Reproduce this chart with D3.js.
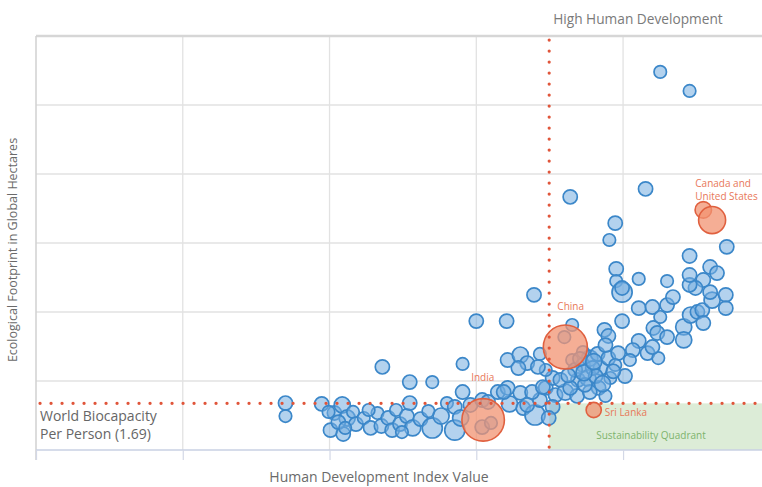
<!DOCTYPE html>
<html>
<head>
<meta charset="utf-8">
<script src="https://cdn.jsdelivr.net/npm/d3@7"></script>
<style>
  body { margin: 0; background: #fff; }
  svg { display: block; }
</style>
</head>
<body>
<div id="chart"></div>
<script>
// Human Development Index vs Ecological Footprint (global hectares / person)
const hdi = [
  0.455, 0.455, 0.492, 0.505, 0.513, 0.518, 0.501, 0.514, 0.509, 0.524,
  0.527, 0.535, 0.542, 0.549, 0.553, 0.560, 0.564, 0.568, 0.572, 0.579,
  0.582, 0.585, 0.593, 0.601, 0.605, 0.614, 0.620, 0.628, 0.628, 0.636,
  0.636, 0.554, 0.582, 0.605, 0.540, 0.574, 0.516, 0.499, 0.656, 0.665,
  0.650, 0.681, 0.709, 0.682, 0.695, 0.702, 0.715, 0.672, 0.682, 0.695,
  0.684, 0.698, 0.710, 0.715, 0.721, 0.728, 0.721, 0.731, 0.728, 0.741,
  0.740, 0.748, 0.748, 0.754, 0.759, 0.766, 0.774, 0.777, 0.764, 0.775,
  0.787, 0.753, 0.766, 0.782, 0.759, 0.785, 0.795, 0.802, 0.781, 0.785,
  0.799, 0.782, 0.816, 0.810, 0.825, 0.836, 0.831, 0.835, 0.845, 0.830,
  0.816, 0.830, 0.838, 0.845, 0.851, 0.862, 0.862, 0.869, 0.876, 0.881,
  0.882, 0.891, 0.905, 0.905, 0.889, 0.882, 0.874, 0.868, 0.868, 0.889,
  0.896, 0.845, 0.816, 0.793, 0.793, 0.799, 0.799, 0.868, 0.906, 0.786,
  0.792, 0.823, 0.746, 0.838, 0.868, 0.736, 0.751, 0.769, 0.761, 0.792,
  0.807, 0.724, 0.693, 0.634, 0.644, 0.656, 0.662, 0.678, 0.707, 0.718,
  0.713, 0.702, 0.746, 0.772, 0.760, 0.779, 0.756, 0.790, 0.770, 0.744
];
const footprint = [
  1.70, 1.23, 1.67, 1.34, 1.63, 1.16, 0.72, 0.58, 1.01, 1.38,
  0.94, 1.16, 0.80, 1.34, 0.87, 1.16, 0.72, 1.45, 0.94, 1.23,
  1.70, 0.80, 1.12, 1.41, 0.80, 1.23, 1.70, 1.56, 0.72, 2.10,
  3.12, 3.01, 2.46, 2.46, 1.45, 0.65, 0.80, 1.38, 0.83, 0.98,
  4.67, 4.67, 5.62, 3.26, 3.44, 3.15, 3.48, 2.10, 2.25, 2.07,
  1.67, 1.52, 1.27, 1.81, 2.25, 2.61, 2.90, 1.99, 1.56, 2.10,
  4.09, 4.53, 3.26, 2.54, 3.08, 3.33, 3.48, 2.97, 2.61, 2.25,
  2.61, 1.96, 2.10, 1.96, 3.55, 3.33, 3.51, 2.68, 4.35, 4.13,
  4.67, 3.80, 3.95, 3.62, 3.51, 3.33, 4.42, 4.24, 4.09, 3.73,
  5.14, 5.18, 4.82, 5.25, 5.54, 4.46, 3.99, 4.89, 5.00, 5.07,
  4.60, 5.43, 5.62, 5.14, 5.72, 6.16, 5.87, 5.98, 6.34, 6.63,
  6.41, 6.12, 6.20, 6.56, 6.12, 5.72, 5.87, 7.03, 7.36, 7.61,
  8.22, 9.46, 9.17, 13.70, 13.01, 2.54, 2.90, 2.97, 2.36, 3.08,
  3.26, 1.16, 2.97, 1.16, 1.63, 1.81, 1.74, 2.10, 2.10, 2.28,
  3.01, 1.63, 2.25, 2.68, 2.80, 2.40, 3.30, 2.85, 3.20, 2.70
];
// population in millions
const population = [
  11, 2, 11, 11, 30, 30, 11, 11, 11, 2,
  11, 2, 11, 2, 11, 11, 11, 2, 11, 11,
  11, 30, 11, 2, 100, 30, 2, 11, 100, 11,
  2, 11, 11, 2, 2, 2, 2, 2, 11, 2,
  11, 11, 11, 11, 30, 11, 2, 11, 11, 11,
  30, 11, 100, 11, 11, 11, 2, 11, 11, 30,
  2, 2, 2, 11, 11, 30, 11, 11, 30, 11,
  2, 11, 11, 2, 2, 11, 11, 11, 11, 11,
  11, 11, 11, 11, 11, 2, 11, 11, 11, 11,
  11, 11, 2, 11, 11, 30, 30, 30, 11, 11,
  11, 30, 11, 11, 11, 11, 11, 11, 11, 11,
  11, 2, 2, 11, 2, 100, 11, 11, 11, 2,
  11, 11, 11, 2, 2, 11, 11, 11, 11, 2,
  2, 11, 11, 30, 11, 11, 11, 11, 11, 11,
  11, 11, 11, 11, 30, 30, 11, 11, 30, 11
];

// highlighted countries
const hlNames = ["India", "China", "Sri Lanka", "Canada", "United States"];
const hlHdi = [0.657, 0.741, 0.770, 0.882, 0.891];
const hlFootprint = [1.09, 3.73, 1.45, 8.70, 8.33];
const hlPopulation = [1230, 1350, 20, 35, 315];

const biocapacity = 1.69;
const highHdi = 0.7245;
const xGrid = [0.2, 0.35, 0.5, 0.65, 0.8];
const yGrid = [0, 2.5, 5, 7.5, 10, 12.5, 15];

const width = 762, height = 487;

const x = d3.scaleLinear().domain([0.2, 0.942]).range([36, 762]);
const y = d3.scaleLinear().domain([0, 15]).range([450, 36]);
const r = d3.scaleSqrt().domain([0, 1350]).range([5.6, 22]);

const svg = d3.select("#chart").append("svg")
    .attr("width", width)
    .attr("height", height)
    .attr("font-family", "'Open Sans', sans-serif");

// gridlines
svg.append("g")
    .attr("stroke", "#e2e2e2")
    .attr("stroke-width", 1.3)
  .selectAll("line")
  .data(yGrid.slice(1, -1))
  .join("line")
    .attr("x1", x(0.2)).attr("x2", width)
    .attr("y1", d => y(d)).attr("y2", d => y(d));

svg.append("g")
    .attr("stroke", "#e2e2e2")
    .attr("stroke-width", 1.3)
  .selectAll("line")
  .data(xGrid.slice(1))
  .join("line")
    .attr("x1", d => x(d)).attr("x2", d => x(d))
    .attr("y1", y(15)).attr("y2", y(0));

// frame: top border, left border, bottom axis with ticks
svg.append("line")
    .attr("x1", x(0.2)).attr("x2", width)
    .attr("y1", y(15)).attr("y2", y(15))
    .attr("stroke", "#d6d6d6").attr("stroke-width", 2.5);

svg.append("line")
    .attr("x1", x(0.2)).attr("x2", x(0.2))
    .attr("y1", y(15)).attr("y2", y(0) + 10)
    .attr("stroke", "#d0d0d0").attr("stroke-width", 1.5);

// sustainability quadrant
svg.append("rect")
    .attr("x", x(highHdi))
    .attr("y", y(biocapacity))
    .attr("width", width - x(highHdi))
    .attr("height", y(0) - y(biocapacity))
    .attr("fill", "#dcecd7");

const xAxis = svg.append("g")
    .attr("transform", `translate(0,${y(0)})`)
    .call(d3.axisBottom(x).tickValues(xGrid).tickSize(10).tickFormat(""));
xAxis.select(".domain").attr("stroke", "#c9d0e3").attr("stroke-width", 1.5)
    .attr("d", `M${x(0.2)},0H${width}`);
xAxis.selectAll(".tick line").attr("stroke", "#d3d8e6").attr("stroke-width", 1.2);

// countries
const blue = d3.range(hdi.length).map(i => ({ h: hdi[i], f: footprint[i], p: population[i] }));
svg.append("g")
  .selectAll("circle")
  .data(blue)
  .join("circle")
    .attr("cx", d => x(d.h))
    .attr("cy", d => y(d.f))
    .attr("r", d => r(d.p))
    .attr("fill", "#75ade0")
    .attr("fill-opacity", 0.55)
    .attr("stroke", "#3b87c9")
    .attr("stroke-width", 1.7);

const hl = hlNames.map((n, i) => ({ name: n, h: hlHdi[i], f: hlFootprint[i], p: hlPopulation[i] }));
svg.append("g")
  .selectAll("circle")
  .data(hl)
  .join("circle")
    .attr("cx", d => x(d.h))
    .attr("cy", d => y(d.f))
    .attr("r", d => r(d.p))
    .attr("fill", "#f29372")
    .attr("fill-opacity", 0.75)
    .attr("stroke", "#e0603f")
    .attr("stroke-width", 1.6);

// threshold dotted lines
const dots = { stroke: "#e0553a", "stroke-width": 3.2, "stroke-linecap": "round", "stroke-dasharray": "0.1 10.9" };
const hLine = svg.append("line")
    .attr("x1", x(0.2) + 4).attr("x2", width)
    .attr("y1", y(biocapacity)).attr("y2", y(biocapacity));
const vLine = svg.append("line")
    .attr("x1", x(highHdi)).attr("x2", x(highHdi))
    .attr("y1", y(15) + 4).attr("y2", y(0) + 2);
for (const k in dots) { hLine.attr(k, dots[k]); vLine.attr(k, dots[k]); }

// labels
svg.append("text")
    .attr("x", x(highHdi) + 4).attr("y", 24)
    .attr("font-size", 13.7).attr("fill", "#7a7a7a")
    .text("High Human Development");

svg.append("text")
    .attr("x", 40).attr("y", 421)
    .attr("font-size", 14).attr("fill", "#666")
    .text("World Biocapacity");
svg.append("text")
    .attr("x", 40).attr("y", 439)
    .attr("font-size", 14).attr("fill", "#666")
    .text("Per Person (" + biocapacity + ")");

svg.append("text")
    .attr("x", 651).attr("y", 439)
    .attr("text-anchor", "middle")
    .attr("font-size", 10).attr("fill", "#7db36c")
    .text("Sustainability Quadrant");

svg.append("text")
    .attr("transform", `translate(17,${(y(0) + y(15)) / 2 + 7}) rotate(-90)`)
    .attr("text-anchor", "middle")
    .attr("font-size", 12.5).attr("fill", "#6a6a6a")
    .text("Ecological Footprint in Global Hectares");

svg.append("text")
    .attr("x", 379).attr("y", 482)
    .attr("text-anchor", "middle")
    .attr("font-size", 14).attr("fill", "#6a6a6a")
    .text("Human Development Index Value");

// country annotations
const labelColor = "#e8785a";
const ann = [
  { lines: ["India"], h: 0.657, f: 1.09, dx: -12, dy: -39 },
  { lines: ["China"], h: 0.741, f: 3.73, dx: -8, dy: -37 },
  { lines: ["Sri Lanka"], h: 0.770, f: 1.45, dx: 11, dy: 6 },
  { lines: ["Canada and", "United States"], h: 0.882, f: 8.70, dx: -8, dy: -23 }
];
ann.forEach(a => {
  const t = svg.append("text")
      .attr("font-size", 10).attr("fill", labelColor);
  a.lines.forEach((l, i) => t.append("tspan")
      .attr("x", x(a.h) + a.dx)
      .attr("y", y(a.f) + a.dy + i * 13)
      .text(l));
});
</script>
</body>
</html>
